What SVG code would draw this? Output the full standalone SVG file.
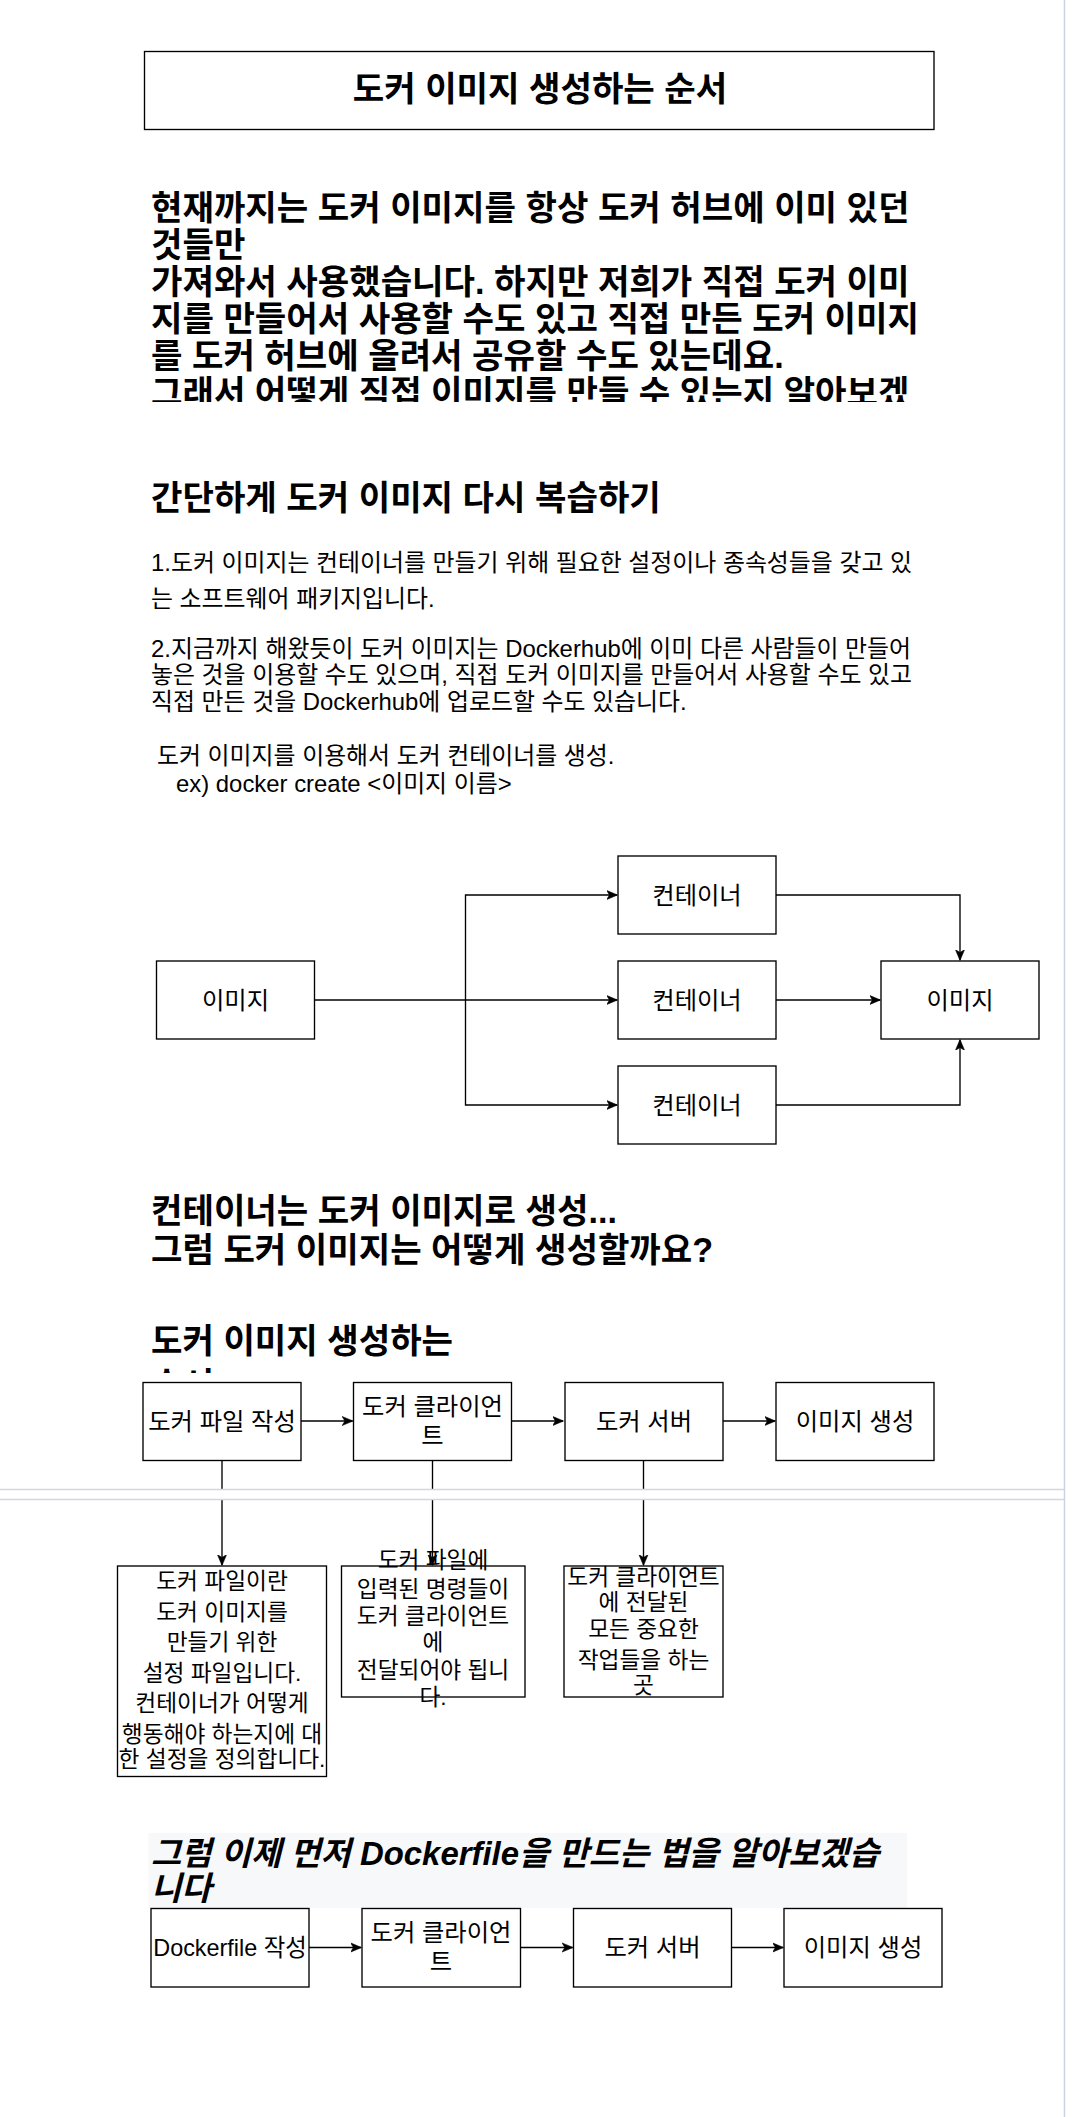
<svg xmlns="http://www.w3.org/2000/svg" width="1077" height="2117" viewBox="0 0 1077 2117">
<style>
text{font-family:"Liberation Sans","Noto Sans CJK KR",sans-serif;fill:#000}
.h{font-size:34.2px;font-weight:bold}
.hi{font-size:32.9px;font-weight:bold;font-style:italic}
.p{font-size:23.9px}
.b{font-size:24.3px;text-anchor:middle}
.s{font-size:22.7px;text-anchor:middle}
.box{fill:#fff;stroke:#000;stroke-width:1.35}
.ln{fill:none;stroke:#000;stroke-width:1.35}
.arr{fill:none;stroke:#000;stroke-width:1.35;marker-end:url(#ah)}
</style>
<defs>
<marker id="ah" viewBox="0 0 10 10" refX="9.5" refY="5" markerWidth="11" markerHeight="11" markerUnits="userSpaceOnUse" orient="auto">
<path d="M0,0.8 L10,5 L0,9.2 L2.6,5 Z" fill="#000" stroke="#000" stroke-width="0.5"/>
</marker>
<clipPath id="clipP1"><rect x="140" y="170" width="800" height="232"/></clipPath>
<clipPath id="clipH3"><rect x="140" y="1300" width="800" height="73"/></clipPath>
</defs>
<rect width="1077" height="2117" fill="#fff"/>

<g id="title">
<rect class="box" x="144.5" y="51.5" width="789.5" height="78"/>
<text class="h" x="540" y="101" text-anchor="middle">도커 이미지 생성하는 순서</text>
</g>

<g id="intro" clip-path="url(#clipP1)">
<text class="h" x="151" y="220">현재까지는 도커 이미지를 항상 도커 허브에 이미 있던</text>
<text class="h" x="151" y="257">것들만</text>
<text class="h" x="151" y="294">가져와서 사용했습니다. 하지만 저희가 직접 도커 이미</text>
<text class="h" x="151" y="331">지를 만들어서 사용할 수도 있고 직접 만든 도커 이미지</text>
<text class="h" x="151" y="368">를 도커 허브에 올려서 공유할 수도 있는데요.</text>
<text class="h" x="151" y="405">그래서 어떻게 직접 이미지를 만들 수 있는지 알아보겠</text>
</g>

<g id="review-heading">
<text class="h" x="151" y="510">간단하게 도커 이미지 다시 복습하기</text>
</g>

<g id="review-1">
<text class="p" x="151" y="570.5">1.도커 이미지는 컨테이너를 만들기 위해 필요한 설정이나 종속성들을 갖고 있</text>
<text class="p" x="151" y="606.5">는 소프트웨어 패키지입니다.</text>
</g>

<g id="review-2">
<text class="p" x="151" y="656.5">2.지금까지 해왔듯이 도커 이미지는 Dockerhub에 이미 다른 사람들이 만들어</text>
<text class="p" x="151" y="682.5">놓은 것을 이용할 수도 있으며, 직접 도커 이미지를 만들어서 사용할 수도 있고</text>
<text class="p" x="151" y="709.5">직접 만든 것을 Dockerhub에 업로드할 수도 있습니다.</text>
</g>

<g id="review-3">
<text class="p" x="157" y="763.5">도커 이미지를 이용해서 도커 컨테이너를 생성.</text>
<text class="p" x="176" y="791.5">ex) docker create &lt;이미지 이름&gt;</text>
</g>

<g id="connectors">
<path class="arr" d="M314.5,1000 L617,1000"/>
<path class="arr" d="M465.5,1000 L465.5,895 L617,895"/>
<path class="arr" d="M465.5,1000 L465.5,1105 L617,1105"/>
<path class="arr" d="M776,895 L960,895 L960,960"/>
<path class="arr" d="M776,1000 L880,1000"/>
<path class="arr" d="M776,1105 L960,1105 L960,1040"/>
<path class="arr" d="M301,1421 L352.5,1421"/>
<path class="arr" d="M511.5,1421 L563,1421"/>
<path class="arr" d="M723,1421 L775,1421"/>
<path class="arr" d="M222,1461 L222,1565"/>
<path class="arr" d="M432.5,1461 L432.5,1565"/>
<path class="arr" d="M643.5,1461 L643.5,1565"/>
<path class="arr" d="M309,1947.5 L361,1947.5"/>
<path class="arr" d="M520.5,1947.5 L572.5,1947.5"/>
<path class="arr" d="M731.5,1947.5 L783,1947.5"/>
</g>

<g id="img-src">
<rect class="box" x="156.5" y="961" width="158" height="78"/>
<text class="b" x="235.5" y="1009">이미지</text>
</g>
<g id="container-1">
<rect class="box" x="618" y="856" width="158" height="78"/>
<text class="b" x="697" y="904">컨테이너</text>
</g>
<g id="container-2">
<rect class="box" x="618" y="961" width="158" height="78"/>
<text class="b" x="697" y="1009">컨테이너</text>
</g>
<g id="container-3">
<rect class="box" x="618" y="1066" width="158" height="78"/>
<text class="b" x="697" y="1114">컨테이너</text>
</g>
<g id="img-dst">
<rect class="box" x="881" y="961" width="158" height="78"/>
<text class="b" x="960" y="1009">이미지</text>
</g>

<g id="question">
<text class="h" x="151" y="1223">컨테이너는 도커 이미지로 생성...</text>
<text class="h" x="151" y="1262">그럼 도커 이미지는 어떻게 생성할까요?</text>
</g>

<g id="steps-heading" clip-path="url(#clipH3)">
<text class="h" x="151" y="1353">도커 이미지 생성하는</text>
<text class="h" x="151" y="1397">순서</text>
</g>

<g id="step-dockerfile">
<rect class="box" x="143" y="1382.5" width="158" height="78"/>
<text class="b" x="222" y="1430">도커 파일 작성</text>
</g>
<g id="step-client">
<rect class="box" x="353.5" y="1382.5" width="158" height="78"/>
<text class="b" x="432.5" y="1415">도커 클라이언</text>
<text class="b" x="432.5" y="1444">트</text>
</g>
<g id="step-server">
<rect class="box" x="565" y="1382.5" width="158" height="78"/>
<text class="b" x="644" y="1430">도커 서버</text>
</g>
<g id="step-image">
<rect class="box" x="776" y="1382.5" width="158" height="78"/>
<text class="b" x="855" y="1430">이미지 생성</text>
</g>

<g id="page-break">
<rect x="0" y="1490" width="1064" height="9" fill="#fff"/>
<line x1="0" y1="1489.5" x2="1064" y2="1489.5" stroke="#d5d5dd" stroke-width="1.3"/>
<line x1="0" y1="1499.5" x2="1064" y2="1499.5" stroke="#d5d5dd" stroke-width="1.3"/>
</g>
<line x1="1064.5" y1="0" x2="1064.5" y2="2117" stroke="#cbd5e1" stroke-width="1.5"/>

<g id="note-dockerfile">
<rect class="box" x="117.5" y="1566" width="209" height="210.5"/>
<text class="s" x="222" y="1588.5">도커 파일이란</text>
<text class="s" x="222" y="1619.5">도커 이미지를</text>
<text class="s" x="222" y="1649.5">만들기 위한</text>
<text class="s" x="222" y="1680.5">설정 파일입니다.</text>
<text class="s" x="222" y="1710.5">컨테이너가 어떻게</text>
<text class="s" x="222" y="1741.5">행동해야 하는지에 대</text>
<text class="s" x="222" y="1766.5">한 설정을 정의합니다.</text>
</g>
<g id="note-client">
<rect class="box" x="341.5" y="1566" width="183.5" height="131"/>
<text class="s" x="433" y="1567.5">도커 파일에</text>
<text class="s" x="433" y="1596.5">입력된 명령들이</text>
<text class="s" x="433" y="1623.5">도커 클라이언트</text>
<text class="s" x="433" y="1649.5">에</text>
<text class="s" x="433" y="1677.5">전달되어야 됩니</text>
<text class="s" x="433" y="1704.5">다.</text>
</g>
<g id="note-server">
<rect class="box" x="564" y="1566" width="159" height="131"/>
<text class="s" x="643.5" y="1584.5">도커 클라이언트</text>
<text class="s" x="643.5" y="1609.5">에 전달된</text>
<text class="s" x="643.5" y="1636.5">모든 중요한</text>
<text class="s" x="643.5" y="1667.5">작업들을 하는</text>
<text class="s" x="643.5" y="1692.5">곳</text>
</g>

<g id="dockerfile-heading">
<rect x="148.5" y="1833" width="758.5" height="75" fill="#f7f8fa"/>
<text class="hi" x="151" y="1865">그럼 이제 먼저 Dockerfile을 만드는 법을 알아보겠습</text>
<text class="hi" x="151" y="1900">니다</text>
</g>

<g id="b-dockerfile">
<rect class="box" x="151" y="1908.5" width="158" height="78.5"/>
<text class="b" x="230" y="1956" style="font-size:23.4px">Dockerfile 작성</text>
</g>
<g id="b-client">
<rect class="box" x="362" y="1908.5" width="158.5" height="78.5"/>
<text class="b" x="441" y="1941">도커 클라이언</text>
<text class="b" x="441" y="1969.5">트</text>
</g>
<g id="b-server">
<rect class="box" x="573.5" y="1908.5" width="158" height="78.5"/>
<text class="b" x="652.5" y="1956">도커 서버</text>
</g>
<g id="b-image">
<rect class="box" x="784" y="1908.5" width="158" height="78.5"/>
<text class="b" x="863" y="1956">이미지 생성</text>
</g>
</svg>
